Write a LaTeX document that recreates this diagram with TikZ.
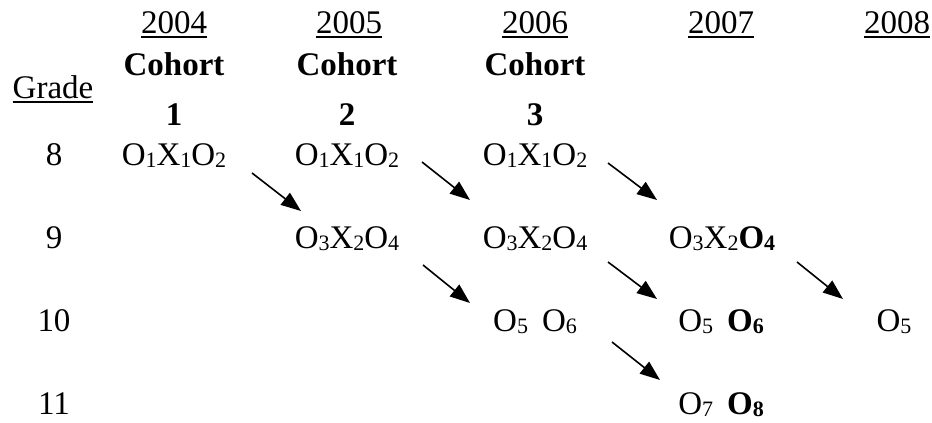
\documentclass[tikz,border=0pt]{standalone}
\usepackage{fontspec}
\setmainfont{Liberation Serif}
\usetikzlibrary{arrows.meta}
\newcommand{\lowidx}[1]{\raisebox{-2.5pt}{\fontsize{22}{22}\selectfont #1}}
\begin{document}
\begin{tikzpicture}[x=1pt,y=-1pt,
  txt/.style={anchor=base,inner sep=0pt,outer sep=0pt,font=\fontsize{33}{40}\selectfont},
  bld/.style={txt,font=\fontsize{33}{40}\selectfont\bfseries},
  uline/.style={line width=1.6pt},
  arr/.style={line width=1.6pt,-{Triangle[length=20pt,width=15pt]}}]
\useasboundingbox (0,0) rectangle (932,423);
% years
\node[txt] (y04) at (174,33) {2004};
\node[txt] (y05) at (349,33) {2005};
\node[txt] (y06) at (535,33) {2006};
\node[txt] (y07) at (721,33) {2007};
\node[txt] (y08) at (897,33) {2008};
\foreach \n in {y04,y05,y06,y07,y08}
  \draw[uline] ([yshift=-4pt]\n.base west) -- ([yshift=-4pt]\n.base east);
% grade
\node[txt] (grade) at (53,98) {Grade};
\draw[uline] ([yshift=-4pt]grade.base west) -- ([yshift=-4pt]grade.base east);
% cohorts
\node[bld] (c1) at (174,75) {Cohort};
\node[bld] (c2) at (347,75) {Cohort};
\node[bld] (c3) at (535,75) {Cohort};
\node[bld] (n1) at (174,125) {1};
\node[bld] (n2) at (347,125) {2};
\node[bld] (n3) at (535,125) {3};
% grade numbers
\node[txt] (g8) at (54,165) {8};
\node[txt] (g9) at (54,248) {9};
\node[txt] (g10) at (54,331) {10};
\node[txt] (g11) at (54,414) {11};
% row 8
\node[txt] (r8a) at (174,165) {O\lowidx{1}X\lowidx{1}O\lowidx{2}};
\node[txt] (r8b) at (347,165) {O\lowidx{1}X\lowidx{1}O\lowidx{2}};
\node[txt] (r8c) at (535,165) {O\lowidx{1}X\lowidx{1}O\lowidx{2}};
% row 9
\node[txt] (r9b) at (347,248) {O\lowidx{3}X\lowidx{2}O\lowidx{4}};
\node[txt] (r9c) at (535,248) {O\lowidx{3}X\lowidx{2}O\lowidx{4}};
\node[txt] (r9d) at (722,248) {O\lowidx{3}X\lowidx{2}{\bfseries O\lowidx{4}}};
% row 10
\node[txt] (r10c) at (535,331) {O\lowidx{5}\hspace{14pt}O\lowidx{6}};
\node[txt] (r10d) at (721,331) {O\lowidx{5}\hspace{14pt}{\bfseries O\lowidx{6}}};
\node[txt] (r10e) at (894,331) {O\lowidx{5}};
% row 11
\node[txt] (r11d) at (721,414) {O\lowidx{7}\hspace{14pt}{\bfseries O\lowidx{8}}};
% arrow end points
\coordinate (a1s) at (252,173); \coordinate (a1e) at (301,211);
\coordinate (a2s) at (422,162); \coordinate (a2e) at (470,200);
\coordinate (a3s) at (608,163); \coordinate (a3e) at (657,200);
\coordinate (a4s) at (423,265); \coordinate (a4e) at (470,303);
\coordinate (a5s) at (608,262); \coordinate (a5e) at (657,299);
\coordinate (a6s) at (797,262); \coordinate (a6e) at (843,299);
\coordinate (a7s) at (612,342); \coordinate (a7e) at (660,380);
\foreach \i in {1,...,7}
  \draw[arr] (a\i s) -- (a\i e);
\end{tikzpicture}
\end{document}
